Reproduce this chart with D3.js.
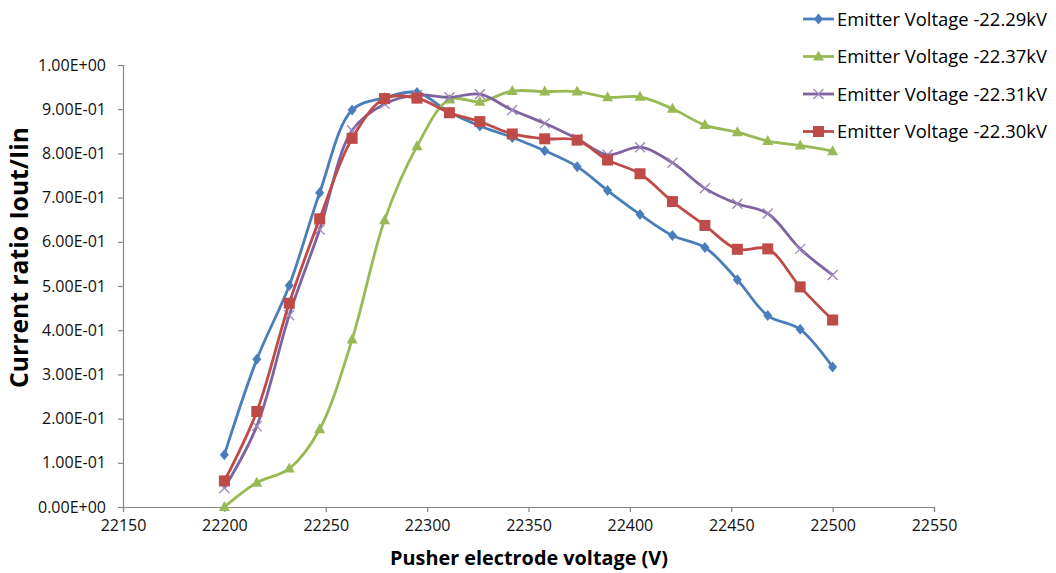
<!DOCTYPE html>
<html>
<head>
<meta charset="utf-8">
<script src="https://cdn.jsdelivr.net/npm/d3@7"></script>
<style>
  html, body { margin: 0; padding: 0; background: #fff; }
  svg { display: block; font-family: "Open Sans", "Liberation Sans", sans-serif; }
</style>
</head>
<body>
<svg id="chart" width="1056" height="573"></svg>
<script>
// Pusher electrode voltage (V) for each measurement
const voltage = [22200, 22216, 22232, 22247, 22263, 22279, 22295, 22311, 22326, 22342,
                 22358, 22374, 22389, 22405, 22421, 22437, 22453, 22468, 22484, 22500];

// Current ratio Iout/Iin per emitter voltage
const ratio2229 = [0.118, 0.334, 0.501, 0.711, 0.898, 0.926, 0.938, 0.893, 0.862, 0.836,
                   0.806, 0.770, 0.716, 0.662, 0.614, 0.587, 0.514, 0.433, 0.402, 0.317];
const ratio2237 = [0.000, 0.055, 0.087, 0.176, 0.379, 0.649, 0.816, 0.922, 0.917, 0.941,
                   0.940, 0.940, 0.927, 0.928, 0.901, 0.864, 0.848, 0.828, 0.818, 0.805];
const ratio2231 = [0.043, 0.183, 0.434, 0.628, 0.852, 0.912, 0.932, 0.927, 0.934, 0.898,
                   0.868, 0.833, 0.797, 0.814, 0.779, 0.721, 0.686, 0.664, 0.584, 0.525];
const ratio2230 = [0.059, 0.216, 0.461, 0.652, 0.834, 0.924, 0.925, 0.892, 0.872, 0.844,
                   0.833, 0.830, 0.785, 0.754, 0.691, 0.637, 0.583, 0.584, 0.498, 0.423];

const seriesNames = ["Emitter Voltage -22.29kV", "Emitter Voltage -22.37kV",
                     "Emitter Voltage -22.31kV", "Emitter Voltage -22.30kV"];

const xTicks = [22150, 22200, 22250, 22300, 22350, 22400, 22450, 22500, 22550];
const yTicks = [0, 0.1, 0.2, 0.3, 0.4, 0.5, 0.6, 0.7, 0.8, 0.9, 1.0];

const xTitle = "Pusher electrode voltage (V)";
const yTitle = "Current ratio Iout/Iin";

// ---- styling ----
const colors = ["#4A7EBB", "#98B954", "#7F63A1", "#BE4B48"];
const markerKinds = ["diamond", "triangle", "cross", "square"];

const series = [ratio2229, ratio2237, ratio2231, ratio2230].map((vals, i) => ({
  name: seriesNames[i],
  color: colors[i],
  marker: markerKinds[i],
  points: vals.map((v, j) => ({ x: voltage[j], y: v }))
}));

const svg = d3.select("#chart");
const plot = { left: 123, right: 934, top: 65, bottom: 507 };

const x = d3.scaleLinear().domain([22150, 22550]).range([plot.left, plot.right]);
const y = d3.scaleLinear().domain([0, 1]).range([plot.bottom, plot.top]);

// Excel-style scientific notation, e.g. 9.00E-01
function sci(v) {
  if (v === 0) return "0.00E+00";
  const [m, e] = v.toExponential(2).split("e");
  const n = +e;
  return m + "E" + (n < 0 ? "-" : "+") + String(Math.abs(n)).padStart(2, "0");
}

// Scale a text element so its rendered width equals the given width
function fitWidth(sel, width) {
  const node = sel.node();
  const fs = parseFloat(sel.style("font-size"));
  const w = node.getComputedTextLength();
  const size = w > 0 ? fs * width / w : fs;
  sel.style("font-size", size.toFixed(2) + "px");
  return size;
}

const axisColor = "#868686";

// Y axis
const yAxis = svg.append("g")
  .attr("transform", `translate(${plot.left},0)`)
  .call(d3.axisLeft(y).tickValues(yTicks).tickFormat(sci).tickSize(5).tickPadding(12));
// X axis
const xAxis = svg.append("g")
  .attr("transform", `translate(0,${plot.bottom})`)
  .call(d3.axisBottom(x).tickValues(xTicks).tickFormat(d3.format("d")).tickSize(5).tickPadding(8));

[yAxis, xAxis].forEach(g => {
  g.select(".domain").attr("stroke", axisColor).attr("stroke-width", 1.2);
  g.selectAll(".tick line").attr("stroke", axisColor).attr("stroke-width", 1.2);
  g.selectAll(".tick text")
    .attr("fill", "#111")
    .style("font-size", "15px")
    .style("font-family", '"Open Sans", sans-serif');
});

// Size tick labels so "1.00E+00" spans the same width as the printed axis
const topLabel = yAxis.selectAll(".tick text").filter(d => d === 1);
const tickSize = fitWidth(topLabel, 68);
svg.selectAll(".tick text").style("font-size", tickSize.toFixed(2) + "px");

// Axis titles
const xt = svg.append("text")
  .attr("x", (390 + 668) / 2).attr("y", 565)
  .attr("text-anchor", "middle")
  .style("font-weight", "bold").style("font-size", "20px")
  .text(xTitle);
fitWidth(xt, 278);

const yt = svg.append("text")
  .attr("transform", `translate(28,${(127 + 388) / 2}) rotate(-90)`)
  .attr("text-anchor", "middle")
  .style("font-weight", "bold").style("font-size", "20px")
  .text(yTitle);
fitWidth(yt, 261);

// Marker shapes
function drawMarker(g, kind, color, cx, cy) {
  if (kind === "diamond") {
    g.append("path")
      .attr("d", `M${cx},${cy - 5.5}L${cx + 4.5},${cy}L${cx},${cy + 5.5}L${cx - 4.5},${cy}Z`)
      .attr("fill", color);
  } else if (kind === "triangle") {
    g.append("path")
      .attr("d", `M${cx},${cy - 6}L${cx + 5.5},${cy + 4}L${cx - 5.5},${cy + 4}Z`)
      .attr("fill", color);
  } else if (kind === "square") {
    g.append("rect")
      .attr("x", cx - 5.5).attr("y", cy - 5.5)
      .attr("width", 11).attr("height", 11)
      .attr("fill", color);
  } else if (kind === "cross") {
    g.append("path")
      .attr("d", `M${cx - 5},${cy - 5}L${cx + 5},${cy + 5}M${cx - 5},${cy + 5}L${cx + 5},${cy - 5}`)
      .attr("stroke", "#9a86bb").attr("stroke-width", 1.3).attr("fill", "none");
  }
}

const line = d3.line()
  .x(d => x(d.x))
  .y(d => y(d.y))
  .curve(d3.curveCatmullRom.alpha(0.5));

// Series lines and markers
series.forEach(s => {
  const g = svg.append("g");
  g.append("path")
    .datum(s.points)
    .attr("d", line)
    .attr("fill", "none")
    .attr("stroke", s.color)
    .attr("stroke-width", 2.8)
    .attr("stroke-linejoin", "round");
  s.points.forEach(p => drawMarker(g, s.marker, s.color, x(p.x), y(p.y)));
});

// Legend
const legendRows = [19, 56.5, 94, 131.5];
series.forEach((s, i) => {
  const g = svg.append("g");
  const cy = legendRows[i];
  g.append("line")
    .attr("x1", 803).attr("x2", 834).attr("y1", cy).attr("y2", cy)
    .attr("stroke", s.color).attr("stroke-width", 2.8);
  drawMarker(g, s.marker, s.color, 818.5, cy);
  const t = g.append("text")
    .attr("x", 837).attr("y", cy).attr("dy", "0.36em")
    .style("font-size", "17px")
    .attr("fill", "#000")
    .text(s.name);
  fitWidth(t, 210);
});
</script>
</body>
</html>
